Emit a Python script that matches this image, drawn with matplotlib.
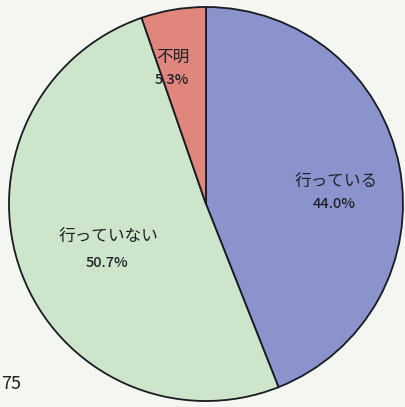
import matplotlib
matplotlib.use("Agg")
import matplotlib.pyplot as plt
import numpy as np

categories = ["行っている", "行っていない", "不明"]
values = [44.0, 50.7, 5.3]
pct_labels = ["44.0%", "50.7%", "5.3%"]
colors = ["#8b93cd", "#cce5cb", "#e0867c"]
# label positions in pixel coords (x, y from top) for the name line
label_pos = [(336, 181), (108, 236), (173, 57)]
pct_pos = [(334, 204), (107, 263), (172, 80)]
page_number = "75"

W, H = 406, 407
fig = plt.figure(figsize=(W / 100, H / 100), dpi=100)
fig.patch.set_facecolor("#f4f6f2")
ax = fig.add_axes([0, 0, 1, 1])

cx, cy_pix, r = 206, 204, 197
ax.pie(values, colors=colors, startangle=90, counterclock=False,
       center=(cx, H - cy_pix), radius=r, frame=True,
       wedgeprops=dict(edgecolor="#1a1a22", linewidth=1.3))
ax.set_xlim(0, W)
ax.set_ylim(0, H)
ax.set_aspect("equal")
ax.axis("off")

font = ["Noto Sans CJK JP", "DejaVu Sans"]
for name, pct, (lx, ly), (px, py) in zip(categories, pct_labels, label_pos, pct_pos):
    ax.text(lx, H - ly, name, ha="center", va="center", fontsize=12,
            family=font, color="#202028")
    ax.text(px, H - py, pct, ha="center", va="center", fontsize=10.5,
            family=font, color="#202028", weight="medium")

ax.text(1, H - 384, page_number, ha="left", va="center", fontsize=13,
        family=font, color="#222222")

fig.savefig("out.png", dpi=100, facecolor=fig.get_facecolor())
